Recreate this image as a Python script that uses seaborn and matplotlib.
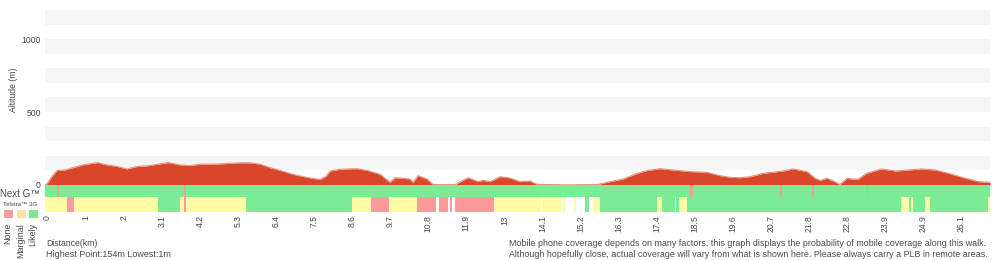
import numpy as np
import pandas as pd
import matplotlib
matplotlib.use("Agg")
import matplotlib.pyplot as plt
import matplotlib.patches as mpatches
import seaborn as sns

# ---------------- data ----------------
tick_labels = ["0", "1", "2", "3.1", "4.2", "5.3", "6.4", "7.5", "8.6", "9.7",
               "10.8", "11.9", "13", "14.1", "15.2", "16.3", "17.4", "18.5",
               "19.6", "20.7", "21.8", "22.8", "23.9", "24.9", "26.1"]

# position along the track (in tick-step units) and altitude (m)
track_pos = [-0.066, -0.013, 0.118, 0.249, 0.460, 0.670, 0.932, 1.169, 1.326, 1.457,
             1.641, 1.825, 2.088, 2.350, 2.613, 2.954, 3.164, 3.348, 3.479, 3.742,
             4.005, 4.346, 4.714, 5.055, 5.318, 5.580, 5.843, 6.106, 6.447, 6.815,
             7.156, 7.314, 7.419, 7.681, 8.128, 8.390, 8.732, 8.889, 8.994, 9.126,
             9.336, 9.520, 9.598, 9.730, 9.966, 10.124, 10.386, 10.702, 10.885, 11.043,
             11.305, 11.437, 11.621, 11.884, 12.146, 12.409, 12.671, 12.855, 13.643, 14.431,
             14.772, 15.114, 15.481, 15.744, 16.085, 16.427, 16.873, 17.320, 17.661, 17.924,
             18.186, 18.449, 18.790, 19.315, 19.578, 19.945, 20.155, 20.287, 20.470, 20.628,
             20.812, 20.996, 21.153, 21.297, 21.507, 21.901, 22.269, 22.610, 22.952, 23.319,
             23.661, 24.107, 24.449, 24.751]
altitude_m = [2, 8, 60, 99, 103, 119, 138, 148, 154, 143,
              135, 127, 110, 127, 131, 145, 154, 145, 138, 133,
              143, 143, 147, 152, 152, 143, 119, 100, 73, 52,
              38, 60, 96, 108, 112, 100, 73, 40, 18, 50,
              46, 41, 18, 64, 41, 4, 2, 3, 28, 50,
              23, 32, 23, 57, 48, 23, 28, 4, 1, 3,
              23, 41, 80, 99, 112, 103, 92, 87, 64, 53,
              50, 57, 80, 96, 110, 92, 46, 32, 46, 28,
              4, 46, 41, 41, 80, 110, 96, 103, 110, 103,
              80, 46, 23, 18]

# Next G: mostly "Likely", with short "None" spots
nextg_start = -0.066
nextg_end = 24.751
nextg_none_start = [0.249, 3.585, 16.873, 19.236, 20.077, 21.521]
nextg_none_end = [0.302, 3.637, 16.952, 19.288, 20.116, 21.560]

# Telstra 3G: segment breakpoints and levels ("" = no data)
g3_breaks = [-0.066, 0.512, 0.696, 2.902, 3.479, 3.585, 3.637, 5.213, 7.996, 8.495,
             8.968, 9.703, 10.202, 10.281, 10.517, 10.570, 10.622, 10.701, 11.725, 12.960,
             12.986, 13.485, 13.537, 13.590, 13.826, 13.879, 14.115, 14.220, 14.325, 14.509,
             16.006, 16.137, 16.479, 16.505, 16.584, 16.794, 22.414, 22.624, 22.676, 22.729,
             23.044, 23.176, 24.699, 24.751]
g3_levels = ["Marginal", "None", "Marginal", "Likely", "Marginal", "None", "Marginal", "Likely", "Marginal", "None",
             "Marginal", "None", "", "None", "", "None", "", "None", "Marginal", "",
             "Marginal", "", "Marginal", "", "Marginal", "", "Likely", "", "Marginal", "Likely",
             "Marginal", "Likely", "Marginal", "Likely", "Marginal", "Likely", "Marginal", "Likely", "Marginal", "Likely",
             "Marginal", "Likely", "Marginal"]

legend_levels = ["None", "Marginal", "Likely"]

# ---------------- style ----------------
sns.set_theme(style="white")
plt.rcParams["font.family"] = ["Liberation Sans", "DejaVu Sans"]

level_colors = {"None": "#ff9a9a", "Marginal": "#fffba6", "Likely": "#7beb96"}
legend_colors = {"None": "#ff9a9a", "Marginal": "#fde2a8", "Likely": "#7de592"}
TXT = "#4a4a4a"
FS = 6.2

W, H = 1000, 260
fig = plt.figure(figsize=(W / 100, H / 100), dpi=100)


def fx(x):
    return x / W


def fy(y):
    return 1 - y / H


xmin, xmax = -0.066, 24.751
left, right = 45, 990

# ---- altitude axes ----
ax = fig.add_axes([fx(left), fy(185), fx(right) - fx(left), fy(10) - fy(185)])
for k in range(6):
    ax.axhspan(100 + 200 * k, 200 + 200 * k, color="#f5f5f5", lw=0, zorder=0)
prof = pd.DataFrame({"pos": track_pos, "alt": altitude_m})
ax.fill_between(prof["pos"], 0, prof["alt"], color="#d9472b", lw=0, zorder=2)
sns.lineplot(data=prof, x="pos", y="alt", ax=ax, color="#e9927c", lw=0.8, zorder=3)
ax.set_xlim(xmin, xmax)
ax.set_ylim(0, 1200)
ax.set_yticks([0, 500, 1000])
ax.set_yticklabels(["0", "500", "1000"])
ax.set_xticks([])
ax.tick_params(axis="y", length=0, pad=3, labelsize=FS, labelcolor=TXT)
ax.set_xlabel("")
ax.set_ylabel("")
for s in ax.spines.values():
    s.set_visible(False)
ax.patch.set_alpha(0)

# ---- Next G row ----
axn = fig.add_axes([fx(left), fy(196.7), fx(right) - fx(left), fy(185) - fy(196.7)])
axn.barh(0, nextg_end - nextg_start, left=nextg_start, height=1,
         color=level_colors["Likely"], lw=0)
axn.barh([0] * len(nextg_none_start),
         np.array(nextg_none_end) - np.array(nextg_none_start),
         left=nextg_none_start, height=1, color=level_colors["None"], lw=0)
axn.set_xlim(xmin, xmax)
axn.set_ylim(-0.5, 0.5)
axn.axis("off")

# ---- Telstra 3G row ----
ax3 = fig.add_axes([fx(left), fy(211.7), fx(right) - fx(left), fy(196.7) - fy(211.7)])
seg = pd.DataFrame({"start": g3_breaks[:-1], "end": g3_breaks[1:], "level": g3_levels})
seg = seg[seg["level"] != ""]
ax3.barh([0] * len(seg), seg["end"] - seg["start"], left=seg["start"], height=1,
         color=[level_colors[l] for l in seg["level"]], lw=0)
ax3.set_xlim(xmin, xmax)
ax3.set_ylim(-0.5, 0.5)
ax3.set_yticks([])
ax3.set_xticks(np.arange(len(tick_labels)))
ax3.set_xticklabels(tick_labels, rotation=90)
ax3.tick_params(axis="x", length=0, pad=2.4, labelsize=FS, labelcolor=TXT)
for s in ax3.spines.values():
    s.set_visible(False)

# ---- texts ----
fig.text(fx(13), fy(90), "Altitude (m)", rotation=90, ha="center", va="center",
         fontsize=FS, color=TXT)
fig.text(fx(40), fy(194), "Next G\u2122", ha="right", va="center", fontsize=7.0, color=TXT)
fig.text(fx(3), fy(204.5), "Telstra\u2122 3G", ha="left", va="center", fontsize=4.4, color=TXT)

for cx, lev in zip([8, 21, 33], legend_levels):
    fig.patches.append(mpatches.Rectangle((fx(cx - 4.5), fy(218)), 9 / W, 8 / H,
                                          transform=fig.transFigure,
                                          facecolor=legend_colors[lev], lw=0))
    fig.text(fx(cx), fy(223), lev, rotation=90, ha="center", va="top",
             fontsize=6.5, color=TXT)

fig.text(fx(46), fy(244), "Distance(km)", ha="left", va="center", fontsize=FS, color=TXT)
fig.text(fx(46), fy(254.5), "Highest Point:154m Lowest:1m", ha="left", va="center",
         fontsize=6.5, color=TXT)
fig.text(fx(509), fy(244),
         "Mobile phone coverage depends on many factors, this graph displays the probability of mobile coverage along this walk.",
         ha="left", va="center", fontsize=6.4, color=TXT)
fig.text(fx(509), fy(254.5),
         "Although hopefully close, actual coverage will vary from what is shown here. Please always carry a PLB in remote areas.",
         ha="left", va="center", fontsize=6.4, color=TXT)

fig.savefig("out.png", dpi=100)
